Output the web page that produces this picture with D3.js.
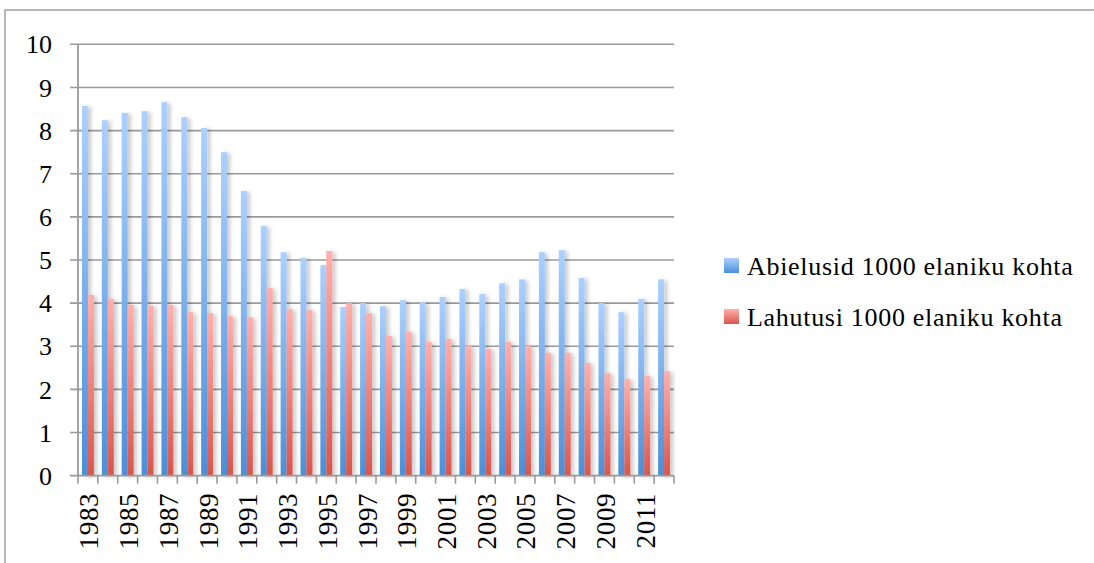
<!DOCTYPE html>
<html>
<head>
<meta charset="utf-8">
<script src="https://cdn.jsdelivr.net/npm/d3@7"></script>
<style>
  body { margin: 0; background: #fff; }
  svg { display: block; }
  text { font-family: "Liberation Serif", "Times New Roman", serif; fill: #000; }
</style>
</head>
<body>
<div id="chart"></div>
<script>
const years = d3.range(1983, 2013);
const marriages = [8.57, 8.24, 8.41, 8.45, 8.66, 8.31, 8.06, 7.50, 6.60, 5.79,
  5.18, 5.05, 4.88, 3.91, 4.00, 3.93, 4.07, 4.02, 4.14, 4.33,
  4.21, 4.46, 4.55, 5.18, 5.23, 4.58, 4.00, 3.79, 4.10, 4.55];
const divorces = [4.19, 4.10, 3.96, 3.94, 3.96, 3.79, 3.77, 3.70, 3.67, 4.35,
  3.86, 3.84, 5.21, 4.00, 3.77, 3.24, 3.33, 3.10, 3.17, 3.01,
  2.94, 3.10, 3.01, 2.85, 2.85, 2.61, 2.38, 2.24, 2.31, 2.42];
const seriesNames = ['Abielusid 1000 elaniku kohta', 'Lahutusi 1000 elaniku kohta'];
const yTicks = d3.range(0, 11);

const width = 1094, height = 563;
const plotLeft = 78, plotRight = 674, plotTop = 44.3, plotBottom = 475.7;

const svg = d3.select('#chart').append('svg')
  .attr('width', width)
  .attr('height', height);

const defs = svg.append('defs');

function gradient(id, c1, c2) {
  const g = defs.append('linearGradient')
    .attr('id', id)
    .attr('x1', 0).attr('y1', 0).attr('x2', 0).attr('y2', 1);
  g.append('stop').attr('offset', '0%').attr('stop-color', c1);
  g.append('stop').attr('offset', '100%').attr('stop-color', c2);
}
gradient('gBlue', '#acd0ff', '#4a8fd9');
gradient('gRed', '#ffb0ac', '#d9554b');

const shadow = defs.append('filter').attr('id', 'shadow')
  .attr('x', '-50%').attr('y', '-10%').attr('width', '250%').attr('height', '120%');
shadow.append('feDropShadow')
  .attr('dx', 3).attr('dy', 1).attr('stdDeviation', 2)
  .attr('flood-color', '#000').attr('flood-opacity', 0.22);

// outer frame
svg.append('rect')
  .attr('x', 5).attr('y', 10)
  .attr('width', width + 10).attr('height', height + 10)
  .attr('fill', 'none')
  .attr('stroke', '#a0a0a0')
  .attr('stroke-width', 1.5);

const x0 = d3.scaleBand()
  .domain(years)
  .range([plotLeft, plotRight])
  .paddingInner(0.4)
  .paddingOuter(0.2);

const x1 = d3.scaleBand()
  .domain([0, 1])
  .range([0, x0.bandwidth()]);

const y = d3.scaleLinear()
  .domain([0, 10])
  .range([plotBottom, plotTop]);

// grid lines
svg.append('g')
  .selectAll('line')
  .data(yTicks.filter(d => d > 0))
  .join('line')
  .attr('x1', plotLeft - 8).attr('x2', plotRight)
  .attr('y1', d => y(d)).attr('y2', d => y(d))
  .attr('stroke', '#9a9a9a')
  .attr('stroke-width', 1.6);

// y tick labels
svg.append('g')
  .selectAll('text')
  .data(yTicks)
  .join('text')
  .attr('x', 52)
  .attr('y', d => y(d))
  .attr('dy', '0.35em')
  .attr('text-anchor', 'end')
  .style('font-size', '26px')
  .text(d => d);

// bars
const groups = svg.append('g')
  .selectAll('g')
  .data(years.map((yr, i) => ({ yr, vals: [marriages[i], divorces[i]] })))
  .join('g')
  .attr('transform', d => `translate(${x0(d.yr)},0)`);

groups.selectAll('rect')
  .data(d => d.vals.map((v, k) => ({ v, k })))
  .join('rect')
  .attr('x', d => x1(d.k))
  .attr('width', x1.bandwidth())
  .attr('y', d => y(d.v))
  .attr('height', d => y(0) - y(d.v))
  .attr('fill', d => d.k === 0 ? 'url(#gBlue)' : 'url(#gRed)')
  .attr('filter', 'url(#shadow)');

// axes lines
svg.append('line')
  .attr('x1', plotLeft).attr('x2', plotLeft)
  .attr('y1', plotTop).attr('y2', plotBottom)
  .attr('stroke', '#9a9a9a').attr('stroke-width', 1.8);

svg.append('line')
  .attr('x1', plotLeft - 8).attr('x2', plotRight)
  .attr('y1', plotBottom).attr('y2', plotBottom)
  .attr('stroke', '#9a9a9a').attr('stroke-width', 1.8);

// x ticks at category boundaries
const step = x0.step();
const boundaries = years.map(yr => x0(yr) - step * x0.paddingInner() / 2).concat([plotRight]);
svg.append('g')
  .selectAll('line')
  .data(boundaries)
  .join('line')
  .attr('x1', d => d).attr('x2', d => d)
  .attr('y1', plotBottom).attr('y2', plotBottom + 8)
  .attr('stroke', '#9a9a9a').attr('stroke-width', 1.6);

// x labels, every other year
svg.append('g')
  .selectAll('text')
  .data(years.filter((yr, i) => i % 2 === 0))
  .join('text')
  .attr('transform', d => `translate(${x0(d) + x0.bandwidth() / 2 + 1},${plotBottom + 17}) rotate(-90)`)
  .attr('dy', '0.35em')
  .attr('text-anchor', 'end')
  .style('font-size', '27px')
  .style('letter-spacing', '0.7px')
  .text(d => d);

// legend
const legend = svg.append('g')
  .selectAll('g')
  .data(seriesNames)
  .join('g')
  .attr('transform', (d, i) => `translate(724,${258 + i * 51})`);

legend.append('rect')
  .attr('width', 15).attr('height', 15)
  .attr('fill', (d, i) => i === 0 ? 'url(#gBlue)' : 'url(#gRed)');

legend.append('text')
  .attr('x', 23)
  .attr('y', 17)
  .style('font-size', '26px')
  .style('letter-spacing', '0.7px')
  .text(d => d);
</script>
</body>
</html>
